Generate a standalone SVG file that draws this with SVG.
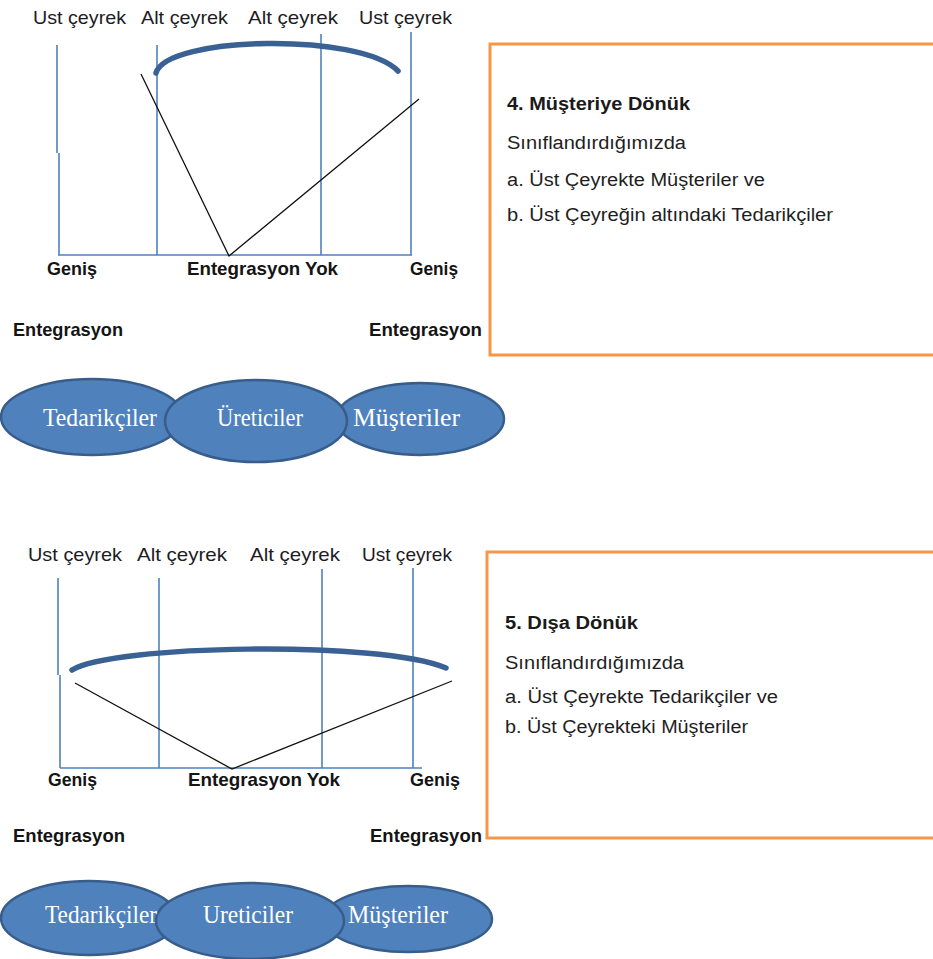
<svg xmlns="http://www.w3.org/2000/svg" width="933" height="959" viewBox="0 0 933 959">
  <style>
    .axis { stroke: #4f81bd; stroke-width: 1.6; fill: none; }
    .arc { stroke: #3a6194; stroke-width: 5.5; fill: none; stroke-linecap: round; }
    .wire { stroke: #111; stroke-width: 1.3; fill: none; }
    .lbl { font-family: "Liberation Sans", Arial, sans-serif; font-size: 19px; fill: #1c1c24; }
    .blbl { font-family: "Liberation Sans", Arial, sans-serif; font-size: 19px; font-weight: bold; fill: #141414; }
    .ell { fill: #4f81bd; stroke: #385d8a; stroke-width: 2.5; }
    .etxt { font-family: "Liberation Serif", "Times New Roman", serif; font-size: 26px; fill: #ffffff; }
    .box { fill: #ffffff; stroke: #f79646; stroke-width: 3; }
    .btxt { font-family: "Liberation Sans", Arial, sans-serif; font-size: 18px; fill: #1e1e1e; }
    .btitle { font-family: "Liberation Sans", Arial, sans-serif; font-size: 18px; font-weight: bold; fill: #1a1a1a; }
  </style>

  <!-- ===== Panel 4: customer-facing ===== -->
  <g id="chart-4">
    <g id="chart-4-heads">
      <text class="lbl" x="33" y="24" textLength="93" lengthAdjust="spacingAndGlyphs">Ust çeyrek</text>
      <text class="lbl" x="141" y="24" textLength="87" lengthAdjust="spacingAndGlyphs">Alt çeyrek</text>
      <text class="lbl" x="248" y="24" textLength="90" lengthAdjust="spacingAndGlyphs">Alt çeyrek</text>
      <text class="lbl" x="359" y="24" textLength="93" lengthAdjust="spacingAndGlyphs">Ust çeyrek</text>
    </g>
    <g id="chart-4-axes">
      <path class="axis" d="M57,45 V153 M59,153 V255"/>
      <line class="axis" x1="157" y1="45" x2="157" y2="255"/>
      <line class="axis" x1="321" y1="34" x2="321" y2="255"/>
      <line class="axis" x1="411" y1="32" x2="411" y2="255"/>
      <line class="axis" x1="58" y1="255" x2="412" y2="255"/>
    </g>
    <g id="chart-4-connectors">
      <path class="arc" d="M156,73 C166,36 360,32 398,71"/>
      <polyline class="wire" points="141,74 229,256 419,99"/>
    </g>
    <g id="chart-4-scale">
      <text class="blbl" x="47" y="275" textLength="50" lengthAdjust="spacingAndGlyphs">Geniş</text>
      <text class="blbl" x="187" y="275" textLength="151" lengthAdjust="spacingAndGlyphs">Entegrasyon Yok</text>
      <text class="blbl" x="410" y="275" textLength="48" lengthAdjust="spacingAndGlyphs">Geniş</text>
      <text class="blbl" x="13" y="336" textLength="110" lengthAdjust="spacingAndGlyphs">Entegrasyon</text>
      <text class="blbl" x="369" y="336" textLength="113" lengthAdjust="spacingAndGlyphs">Entegrasyon</text>
    </g>
  </g>

  <g id="chain-4">
    <g id="chain-4-suppliers">
      <ellipse class="ell" cx="92" cy="417" rx="91" ry="38"/>
    </g>
    <g id="chain-4-customers">
      <ellipse class="ell" cx="420" cy="419" rx="84" ry="36"/>
    </g>
    <g id="chain-4-producers">
      <ellipse class="ell" cx="256" cy="421" rx="91" ry="41"/>
    </g>
    <text class="etxt" x="43" y="426" textLength="114" lengthAdjust="spacingAndGlyphs">Tedarikçiler</text>
    <text class="etxt" x="217" y="426" textLength="86" lengthAdjust="spacingAndGlyphs">Üreticiler</text>
    <text class="etxt" x="353" y="426" textLength="107" lengthAdjust="spacingAndGlyphs">Müşteriler</text>
  </g>

  <g id="note-4">
    <rect class="box" x="490" y="44" width="460" height="311"/>
    <text class="btitle" x="507" y="110" textLength="183" lengthAdjust="spacingAndGlyphs">4. Müşteriye Dönük</text>
    <text class="btxt" x="507" y="149" textLength="179" lengthAdjust="spacingAndGlyphs">Sınıflandırdığımızda</text>
    <text class="btxt" x="507" y="186" textLength="258" lengthAdjust="spacingAndGlyphs">a. Üst Çeyrekte Müşteriler ve</text>
    <text class="btxt" x="507" y="221" textLength="326" lengthAdjust="spacingAndGlyphs">b. Üst Çeyreğin altındaki Tedarikçiler</text>
  </g>

  <!-- ===== Panel 5: outward-facing ===== -->
  <g id="chart-5">
    <g id="chart-5-heads">
      <text class="lbl" x="28" y="561" textLength="94" lengthAdjust="spacingAndGlyphs">Ust çeyrek</text>
      <text class="lbl" x="137" y="561" textLength="90" lengthAdjust="spacingAndGlyphs">Alt çeyrek</text>
      <text class="lbl" x="250" y="561" textLength="90" lengthAdjust="spacingAndGlyphs">Alt çeyrek</text>
      <text class="lbl" x="362" y="561" textLength="90" lengthAdjust="spacingAndGlyphs">Ust çeyrek</text>
    </g>
    <g id="chart-5-axes">
      <path class="axis" d="M58,578 V675 M60,675 V768"/>
      <line class="axis" x1="159" y1="578" x2="159" y2="768"/>
      <line class="axis" x1="322" y1="569" x2="322" y2="768"/>
      <line class="axis" x1="413" y1="568" x2="413" y2="768"/>
      <line class="axis" x1="60" y1="768" x2="422" y2="768"/>
    </g>
    <g id="chart-5-connectors">
      <path class="arc" d="M72,670 C110,645 380,640 446,668"/>
      <polyline class="wire" points="75,683 232,769 452,681"/>
    </g>
    <g id="chart-5-scale">
      <text class="blbl" x="48" y="786" textLength="49" lengthAdjust="spacingAndGlyphs">Geniş</text>
      <text class="blbl" x="188" y="786" textLength="152" lengthAdjust="spacingAndGlyphs">Entegrasyon Yok</text>
      <text class="blbl" x="410" y="786" textLength="50" lengthAdjust="spacingAndGlyphs">Geniş</text>
      <text class="blbl" x="13" y="842" textLength="112" lengthAdjust="spacingAndGlyphs">Entegrasyon</text>
      <text class="blbl" x="370" y="842" textLength="112" lengthAdjust="spacingAndGlyphs">Entegrasyon</text>
    </g>
  </g>

  <g id="chain-5">
    <g id="chain-5-suppliers">
      <ellipse class="ell" cx="89" cy="918" rx="88" ry="37"/>
    </g>
    <g id="chain-5-customers">
      <ellipse class="ell" cx="408" cy="919" rx="84" ry="33"/>
    </g>
    <g id="chain-5-producers">
      <ellipse class="ell" cx="250" cy="921" rx="94" ry="38"/>
    </g>
    <text class="etxt" x="45" y="923" textLength="112" lengthAdjust="spacingAndGlyphs">Tedarikçiler</text>
    <text class="etxt" x="203" y="923" textLength="90" lengthAdjust="spacingAndGlyphs">Ureticiler</text>
    <text class="etxt" x="348" y="923" textLength="100" lengthAdjust="spacingAndGlyphs">Müşteriler</text>
  </g>

  <g id="note-5">
    <rect class="box" x="487" y="552" width="460" height="286"/>
    <text class="btitle" x="505" y="629" textLength="133" lengthAdjust="spacingAndGlyphs">5. Dışa Dönük</text>
    <text class="btxt" x="505" y="669" textLength="179" lengthAdjust="spacingAndGlyphs">Sınıflandırdığımızda</text>
    <text class="btxt" x="505" y="703" textLength="273" lengthAdjust="spacingAndGlyphs">a. Üst Çeyrekte Tedarikçiler ve</text>
    <text class="btxt" x="505" y="733" textLength="243" lengthAdjust="spacingAndGlyphs">b. Üst Çeyrekteki Müşteriler</text>
  </g>
</svg>
